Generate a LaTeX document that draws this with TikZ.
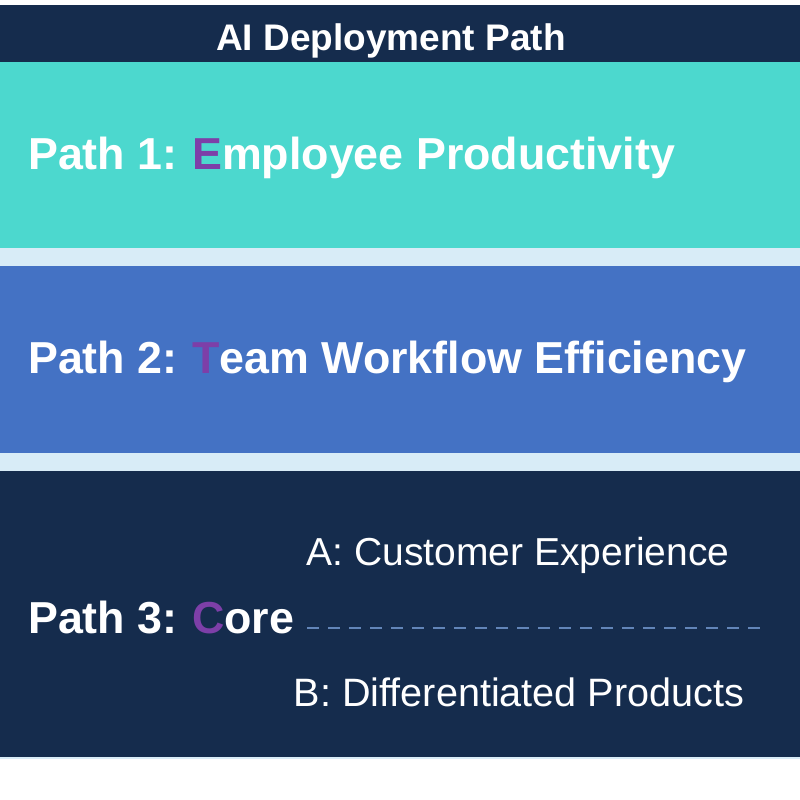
\documentclass[tikz,border=0pt]{standalone}
\usepackage{fontspec}
\setmainfont{Liberation Sans}
\definecolor{navy}{HTML}{152C4D}
\definecolor{teal1}{HTML}{4CD8CE}
\definecolor{blue1}{HTML}{4472C4}
\definecolor{gap1}{HTML}{D8ECF7}
\definecolor{purp}{HTML}{7D3FA8}
\definecolor{dashc}{HTML}{6285B8}
\begin{document}
\begin{tikzpicture}[x=1pt,y=-1pt,
  band/.style={draw=none},
  pathtitle/.style={anchor=base west,inner sep=0pt,text=white,font=\fontsize{44.8}{50}\selectfont\bfseries},
  subtitle/.style={anchor=base,inner sep=0pt,text=white,font=\fontsize{39}{44}\selectfont},
  hdr/.style={anchor=base,inner sep=0pt,text=white,font=\fontsize{37}{42}\selectfont\bfseries},
  dashline/.style={draw=dashc,line width=2.2pt,dash pattern=on 12pt off 9pt}
]
\useasboundingbox (0,0) rectangle (800,800);
\fill[white] (0,0) rectangle (800,800);
% bands
\fill[navy,band] (0,5) rectangle (800,62);
\fill[teal1,band] (0,62) rectangle (800,248);
\fill[gap1,band] (0,248) rectangle (800,266);
\fill[blue1,band] (0,266) rectangle (800,453);
\fill[gap1,band] (0,453) rectangle (800,471);
\fill[navy,band] (0,471) rectangle (800,757);
\fill[gap1] (0,757) rectangle (800,759);
% texts
\node[hdr] (title) at (391,51) {AI Deployment Path};
\node[pathtitle] (p1) at (28,169) {Path 1:\hspace{-2pt} \textcolor{purp}{E}mployee Productivity};
\node[pathtitle] (p2) at (28,373) {Path 2:\hspace{-2pt} \textcolor{purp}{T}eam Workflow Efficiency};
\node[pathtitle] (p3) at (28,633) {Path 3:\hspace{-2pt} \textcolor{purp}{C}ore};
\node[subtitle] (a) at (518,565) {A: Customer Experience};
\node[subtitle,font=\fontsize{39.6}{44}\selectfont] (b) at (519,706) {B: Differentiated Products};
\coordinate (dstart) at (307,628);
\coordinate (dend) at (768,628);
\draw[dashline] (dstart) -- (dend);
\end{tikzpicture}
\end{document}
